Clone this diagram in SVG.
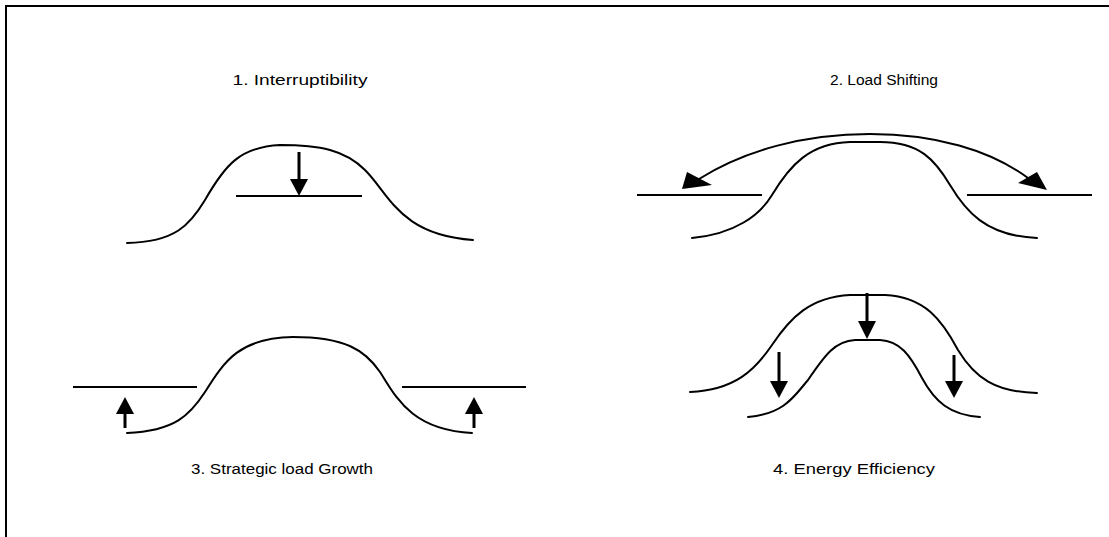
<svg xmlns="http://www.w3.org/2000/svg" width="1109" height="537" viewBox="0 0 1109 537">
<defs>
<style>
.c{fill:none;stroke:#000;stroke-width:2;stroke-linejoin:round;stroke-linecap:round}
.l{fill:none;stroke:#000;stroke-width:2}
.s{fill:none;stroke:#000;stroke-width:3}
.a{fill:#000;stroke:none}
.t{font-family:"Liberation Sans",Arial,sans-serif;font-size:14px;fill:#000}
</style>
</defs>
<rect width="1109" height="537" fill="#fff"/>
<g id="frame"><path class="l" d="M6 537 V6 H1109"/></g>
<g id="p1">
<path class="c" d="M127 243 C175 242 190 225 205 200 C225 165 240 147 280 145 C320 145 345 150 365 170 C390 195 400 235 473 240"/>
<line class="l" x1="236" y1="196" x2="362" y2="196"/>
<text class="t" x="300" y="85" text-anchor="middle" textLength="135" lengthAdjust="spacingAndGlyphs">1. Interruptibility</text>
</g>
<g id="p2">
<path class="c" d="M692 238 C735 234 760 215 772 195 C790 165 810 143 850 142 L880 142 C920 142 935 160 950 185 C965 210 985 236 1037 238"/>
<line class="l" x1="637" y1="195" x2="762" y2="195"/>
<line class="l" x1="967" y1="195" x2="1092" y2="195"/>
<text class="t" x="884" y="85" text-anchor="middle" textLength="108" lengthAdjust="spacingAndGlyphs">2. Load Shifting</text>
</g>
<g id="p3">
<path class="c" d="M127 433 C175 431 190 415 205 392 C225 360 240 338 293 337 C345 337 365 350 380 372 C395 395 410 430 472 433"/>
<line class="l" x1="73" y1="387" x2="197" y2="387"/>
<line class="l" x1="402" y1="387" x2="526" y2="387"/>
<text class="t" x="282" y="474" text-anchor="middle" textLength="182" lengthAdjust="spacingAndGlyphs">3. Strategic load Growth</text>
</g>
<g id="p4">
<path class="c" d="M690 392 C735 390 755 370 772 345 C790 318 810 297 850 295 L885 295 C925 297 942 320 958 350 C975 378 995 392 1037 393"/>
<path class="c" d="M748 417 C785 414 795 395 808 380 C825 355 835 341 855 340 L880 340 C900 341 910 355 922 378 C935 402 950 415 980 417"/>
<text class="t" x="854" y="474" text-anchor="middle" textLength="162" lengthAdjust="spacingAndGlyphs">4. Energy Efficiency</text>
</g>
<g id="connectors">
<line class="s" x1="299" y1="152" x2="299" y2="182"/>
<polygon class="a" points="290,179 308,179 299,196"/>
<path class="c" d="M699 179 C745 150 805 134 870 134 C935 134 990 150 1028 178"/>
<polygon class="a" points="682,189 687,172 712,185"/>
<polygon class="a" points="1047,190 1037,172 1018,183"/>
<line class="s" x1="125" y1="428" x2="125" y2="410"/>
<polygon class="a" points="116,414 134,414 125,397"/>
<line class="s" x1="474" y1="428" x2="474" y2="410"/>
<polygon class="a" points="465,414 483,414 474,397"/>
<line class="s" x1="867" y1="293" x2="867" y2="324"/>
<polygon class="a" points="858,321 876,321 867,339"/>
<line class="s" x1="779" y1="352" x2="779" y2="384"/>
<polygon class="a" points="770,381 788,381 779,398"/>
<line class="s" x1="954" y1="355" x2="954" y2="384"/>
<polygon class="a" points="945,381 963,381 954,398"/>
</g>
</svg>
